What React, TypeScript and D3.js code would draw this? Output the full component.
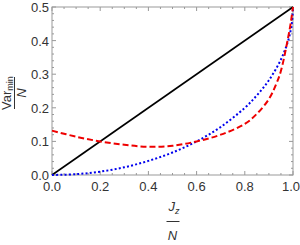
import React from 'react';
import * as d3 from 'd3';

// values
const linearX = [0, 1];
const linearY = [0, 0.5];

const blueX = [0, 0.1, 0.2, 0.3, 0.4, 0.5, 0.6, 0.7, 0.8, 0.85, 0.9, 0.95, 0.98, 0.995, 1];
const blueY = [0, 0.0025, 0.01, 0.023, 0.042, 0.067, 0.1, 0.143, 0.2, 0.237, 0.282, 0.344, 0.4, 0.45, 0.5];

const redX = [0, 0.1, 0.2, 0.3, 0.4, 0.5, 0.6, 0.7, 0.8, 0.85, 0.9, 0.93, 0.95, 0.98, 0.99, 1];
const redY = [0.132, 0.114, 0.1, 0.09, 0.084, 0.087, 0.1, 0.12, 0.152, 0.182, 0.226, 0.27, 0.31, 0.41, 0.45, 0.5];

const xTicks = [0, 0.2, 0.4, 0.6, 0.8, 1.0];
const yTicks = [0, 0.1, 0.2, 0.3, 0.4, 0.5];

const W = 300;
const H = 245;
const m = { left: 52, right: 7, top: 7, bottom: 70 };

const App = () => {
  const x = d3.scaleLinear().domain([0, 1]).range([m.left, W - m.right]);
  const y = d3.scaleLinear().domain([0, 0.5]).range([H - m.bottom, m.top]);

  const line = d3.line<[number, number]>()
    .x(d => x(d[0]))
    .y(d => y(d[1]))
    .curve(d3.curveCatmullRom.alpha(0.5));

  const pts = (xs: number[], ys: number[]) => xs.map((v, i) => [v, ys[i]] as [number, number]);

  const xMinor = d3.range(0, 1.0001, 0.05);
  const yMinor = d3.range(0, 0.5001, 0.02);
  const isMajorX = (v: number) => xTicks.some(t => Math.abs(t - v) < 1e-6);
  const isMajorY = (v: number) => yTicks.some(t => Math.abs(t - v) < 1e-6);

  const x0 = x(0), x1 = x(1), y0 = y(0), y1 = y(0.5);
  const frame = '#999';
  const font = '"Liberation Sans Narrow", "Liberation Sans", Arial, sans-serif';

  return (
    <svg width={W} height={H} style={{ position: 'absolute', left: 0, top: 0 }}>
      <g stroke={frame} strokeWidth={1}>
        {xMinor.map((v, i) => {
          const len = isMajorX(v) ? 4 : 2;
          return (
            <g key={'xt' + i}>
              <line x1={x(v)} x2={x(v)} y1={y0} y2={y0 - len} />
              <line x1={x(v)} x2={x(v)} y1={y1} y2={y1 + len} />
            </g>
          );
        })}
        {yMinor.map((v, i) => {
          const len = isMajorY(v) ? 4 : 2;
          return (
            <g key={'yt' + i}>
              <line x1={x0} x2={x0 + len} y1={y(v)} y2={y(v)} />
              <line x1={x1} x2={x1 - len} y1={y(v)} y2={y(v)} />
            </g>
          );
        })}
        <rect x={x0} y={y1} width={x1 - x0} height={y0 - y1} fill="none" />
      </g>

      <path d={line(pts(linearX, linearY)) || ''} fill="none" stroke="#000" strokeWidth={1.6} />
      <path d={line(pts(blueX, blueY)) || ''} fill="none" stroke="#0000ee" strokeWidth={2} strokeDasharray="2,2.2" />
      <path d={line(pts(redX, redY)) || ''} fill="none" stroke="#ee0000" strokeWidth={2} strokeDasharray="6,3" />

      <g fontFamily={font} fontSize={13} fill="#333">
        {xTicks.map(t => (
          <text key={'xl' + t} x={Math.min(x(t), W - 9)} y={y0 + 16} textAnchor="middle">{t.toFixed(1)}</text>
        ))}
        {yTicks.map(t => (
          <text key={'yl' + t} x={x0 - 3} y={y(t) + 5} textAnchor="end">{t.toFixed(1)}</text>
        ))}
      </g>

      <g fontFamily={font} fontSize={13} fill="#333">
        <text x={x(0.5) - 4} y={211} fontStyle="italic">J<tspan fontSize={9} dy={3}>z</tspan></text>
        <line x1={x(0.5) - 6} x2={x(0.5) + 7} y1={221.5} y2={221.5} stroke="#333" strokeWidth={1} />
        <text x={x(0.5)} y={240} textAnchor="middle" fontStyle="italic">N</text>

        <g transform="translate(0,93) rotate(-90)">
          <text x={0} y={11} textAnchor="middle">Var<tspan fontSize={9} dy={2}>min</tspan></text>
          <line x1={-16} x2={16} y1={14.5} y2={14.5} stroke="#333" strokeWidth={1} />
          <text x={0} y={26} textAnchor="middle" fontStyle="italic">N</text>
        </g>
      </g>
    </svg>
  );
};

export default App;
